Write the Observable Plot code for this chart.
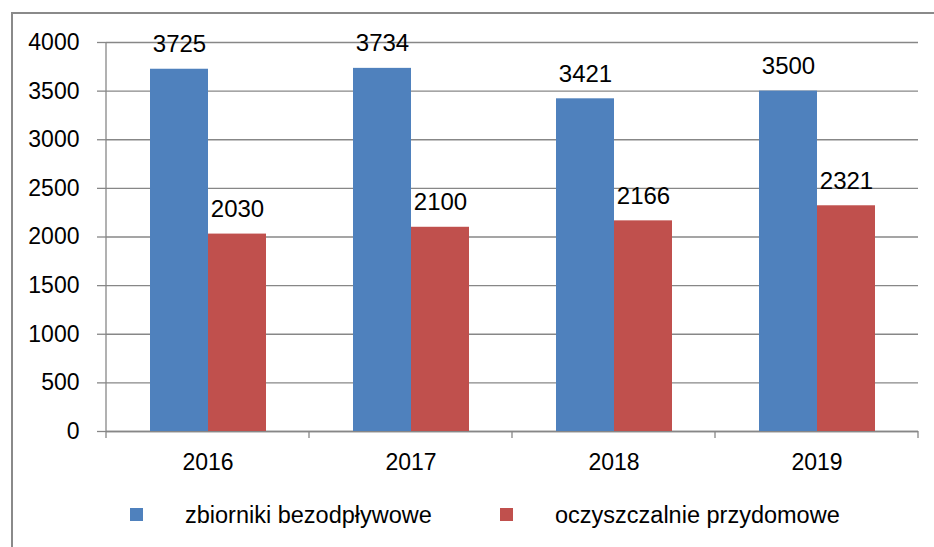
<!DOCTYPE html>
<html>
<head>
<meta charset="utf-8">
<script src="https://cdn.jsdelivr.net/npm/d3@7"></script>
<script src="https://cdn.jsdelivr.net/npm/@observablehq/plot@0.6"></script>
<style>
  html, body { margin: 0; padding: 0; background: #fff; }
  #wrap { position: relative; width: 934px; height: 547px; overflow: hidden; font-family: "Liberation Sans", Arial, sans-serif; }
  #border { position: absolute; left: 11px; top: 12px; width: 1000px; height: 1000px; border-left: 2px solid #8a8a8a; border-top: 2px solid #8a8a8a; box-sizing: border-box; }
  #chart { position: absolute; left: 0; top: 0; }
  #legend { position: absolute; left: 0; top: 490px; width: 934px; height: 57px; font-size: 23.5px; color: #000; }
  .sw { position: absolute; width: 13px; height: 13px; top: 18px; }
  .lt { position: absolute; top: 11px; line-height: 28px; white-space: nowrap; }
</style>
</head>
<body>
<div id="wrap">
  <div id="border"></div>
  <div id="chart"></div>
  <div id="legend"></div>
</div>
<script>
const years = ["2016", "2017", "2018", "2019"];
const seriesNames = ["zbiorniki bezodpływowe", "oczyszczalnie przydomowe"];
const zbiorniki = [3725, 3734, 3421, 3500];
const oczyszczalnie = [2030, 2100, 2166, 2321];
const yTicks = [0, 500, 1000, 1500, 2000, 2500, 3000, 3500, 4000];
const colors = ["#4F81BD", "#C0504D"];

const data = years.flatMap((yr, i) => [
  {year: yr, series: seriesNames[0], value: zbiorniki[i]},
  {year: yr, series: seriesNames[1], value: oczyszczalnie[i]}
]);

const gridColor = "#878787";

const chart = Plot.plot({
  width: 934,
  height: 490,
  marginLeft: 106,
  marginRight: 16,
  marginTop: 42,
  marginBottom: 59,
  style: {fontFamily: "'Liberation Sans', Arial, sans-serif", fontSize: "23px", color: "#000", background: "transparent", overflow: "visible"},
  fx: {domain: years, padding: 0, label: null},
  x: {domain: seriesNames, paddingInner: 0, paddingOuter: 0.75, axis: null},
  y: {domain: [0, 4000], label: null},
  color: {domain: seriesNames, range: colors},
  marks: [
    Plot.gridY(yTicks, {stroke: gridColor, strokeOpacity: 1, strokeWidth: 1.3}),
    Plot.axisY(yTicks, {tickSize: 9, tickPadding: 18, stroke: gridColor, strokeWidth: 1.3, label: null, fontSize: 23, tickFormat: d3.format("d")}),
    Plot.axisFx({anchor: "bottom", tickSize: 0, tickPadding: 22, label: null, fontSize: 23}),
    Plot.ruleY([0], {stroke: gridColor, strokeWidth: 1.3}),
    Plot.barY(data, {fx: "year", x: "series", y: "value", fill: "series"}),
    Plot.text(data, {fx: "year", x: "series", y: "value", text: d => String(d.value), lineAnchor: "bottom", dy: -17, fontSize: 24, fill: "#000"})
  ]
});

document.getElementById("chart").appendChild(chart);

// Axis line and category boundary ticks, placed from Plot's own scales
const fx = chart.scale("fx");
const ys = chart.scale("y");
const svg = d3.select(chart);
const y0 = ys.apply(0);
const yTop = ys.apply(4000);
const bounds = [];
years.forEach(yr => { const l = fx.apply(yr); bounds.push(l, l + fx.bandwidth); });
const uniq = Array.from(new Set(bounds.map(b => Math.round(b * 10) / 10)));
const g = svg.append("g").attr("stroke", gridColor).attr("stroke-width", 1.3);
g.append("line").attr("x1", uniq[0]).attr("x2", uniq[0]).attr("y1", yTop).attr("y2", y0);
uniq.forEach(b => {
  g.append("line").attr("x1", b).attr("x2", b).attr("y1", y0).attr("y2", y0 + 7);
});

// Legend
const legend = document.getElementById("legend");
const legendPos = [{sw: 130, tx: 185}, {sw: 500, tx: 555}];
seriesNames.forEach((s, i) => {
  const sw = document.createElement("div");
  sw.className = "sw";
  sw.style.left = legendPos[i].sw + "px";
  sw.style.background = colors[i];
  legend.appendChild(sw);
  const t = document.createElement("div");
  t.className = "lt";
  t.style.left = legendPos[i].tx + "px";
  t.textContent = s;
  legend.appendChild(t);
});
</script>
</body>
</html>
